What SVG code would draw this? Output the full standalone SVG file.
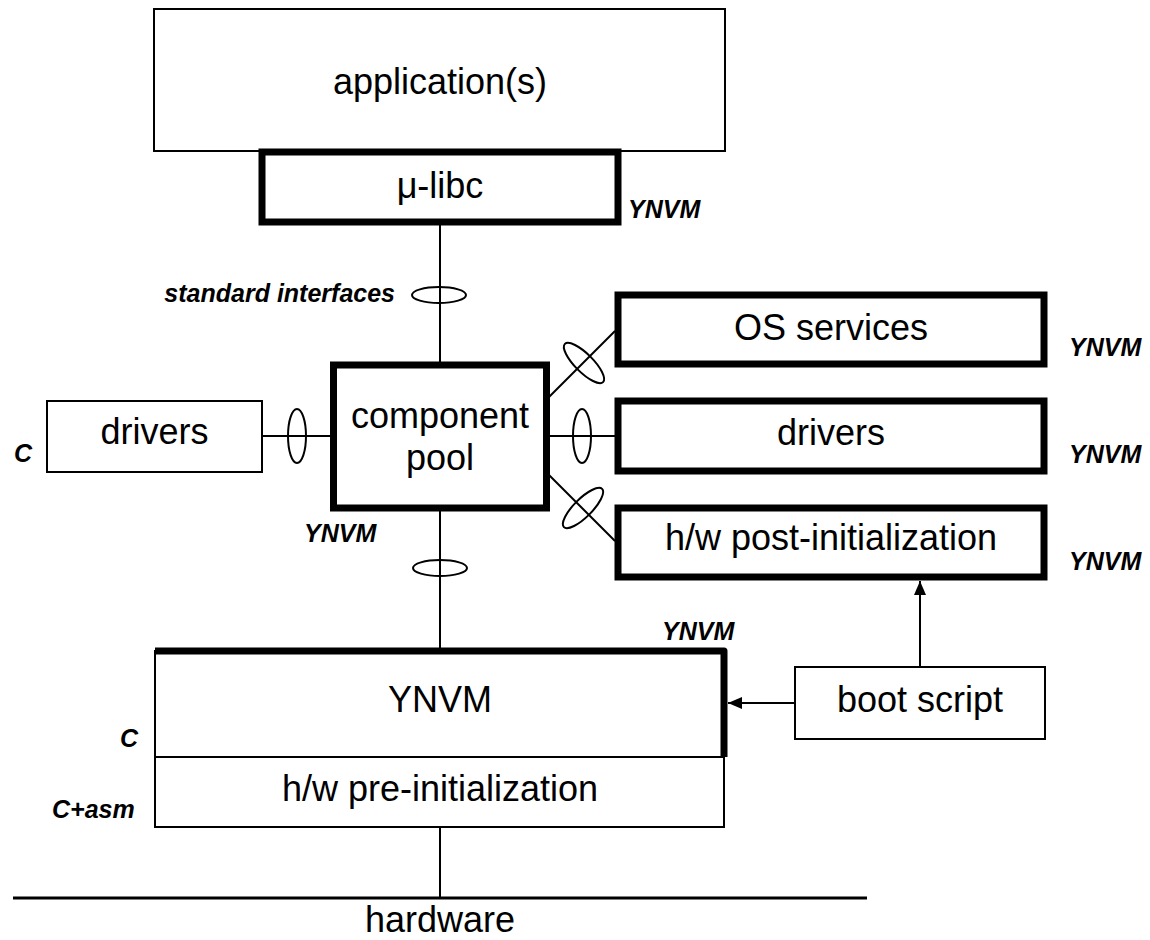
<svg xmlns="http://www.w3.org/2000/svg" width="1150" height="940" viewBox="0 0 1150 940">
<defs>
<style>
.box{fill:#fff;stroke:#000;stroke-width:2}
.thick{fill:#fff;stroke:#000;stroke-width:7}
.t{font-family:"Liberation Sans",Arial,sans-serif;font-size:36px;fill:#000;text-anchor:middle}
.lbl{font-family:"Liberation Sans",Arial,sans-serif;font-size:25px;font-weight:bold;font-style:italic;fill:#000}
.ln{stroke:#000;stroke-width:2;fill:none}
.ell{fill:none;stroke:#000;stroke-width:2}
</style>
<marker id="ah" viewBox="0 0 14 12" refX="14" refY="6" markerWidth="14" markerHeight="12" markerUnits="userSpaceOnUse" orient="auto">
<path d="M0,0 L14,6 L0,12 Z" fill="#000"/>
</marker>
</defs>
<rect width="1150" height="940" fill="#fff"/>

<g id="connectors">
<line class="ln" x1="440" y1="222" x2="440" y2="365"/>
<ellipse class="ell" cx="439" cy="295" rx="27" ry="8"/>
<line class="ln" x1="440" y1="508" x2="440" y2="651"/>
<ellipse class="ell" cx="440" cy="568" rx="27" ry="8"/>
<line class="ln" x1="262" y1="436" x2="333" y2="436"/>
<ellipse class="ell" cx="297" cy="436" rx="9" ry="27"/>
<line class="ln" x1="547" y1="436" x2="618" y2="436"/>
<ellipse class="ell" cx="582" cy="436" rx="9" ry="27"/>
<line class="ln" x1="547" y1="399" x2="615" y2="331"/>
<ellipse class="ell" cx="584" cy="363" rx="27" ry="9" transform="rotate(45 584 363)"/>
<line class="ln" x1="547" y1="473" x2="615" y2="541"/>
<ellipse class="ell" cx="583" cy="508" rx="27" ry="9" transform="rotate(-45 583 508)"/>
<line class="ln" x1="920" y1="667" x2="920" y2="581" marker-end="url(#ah)"/>
<line class="ln" x1="795" y1="703" x2="728" y2="703" marker-end="url(#ah)"/>
<line class="ln" x1="440" y1="827" x2="440" y2="898"/>
<line x1="13" y1="898" x2="867" y2="898" stroke="#000" stroke-width="3"/>
</g>

<g id="applications">
<rect class="box" x="154" y="9" width="571" height="142"/>
<text class="t" x="440" y="94">application(s)</text>
</g>

<g id="ulibc">
<rect class="thick" x="262" y="152" width="356" height="70"/>
<text class="t" x="440" y="198">μ-libc</text>
<text class="lbl" x="628" y="218">YNVM</text>
</g>

<g id="std-if">
<text class="lbl" x="395" y="302" text-anchor="end">standard interfaces</text>
</g>

<g id="component-pool">
<rect class="thick" x="333.5" y="365" width="213" height="143"/>
<text class="t" x="440" y="428">component</text>
<text class="t" x="440" y="470">pool</text>
<text class="lbl" x="304" y="542">YNVM</text>
</g>

<g id="drivers-c">
<rect class="box" x="47" y="401" width="215" height="71"/>
<text class="t" x="154.5" y="444">drivers</text>
<text class="lbl" x="14" y="462">C</text>
</g>

<g id="os-services">
<rect class="thick" x="618" y="295" width="426" height="69"/>
<text class="t" x="831" y="340">OS services</text>
<text class="lbl" x="1069" y="356">YNVM</text>
</g>

<g id="drivers-ynvm">
<rect class="thick" x="618" y="401" width="426" height="70"/>
<text class="t" x="831" y="445">drivers</text>
<text class="lbl" x="1069" y="463">YNVM</text>
</g>

<g id="hw-post">
<rect class="thick" x="618" y="508" width="426" height="69"/>
<text class="t" x="831" y="550">h/w post-initialization</text>
<text class="lbl" x="1069" y="570">YNVM</text>
</g>

<g id="boot-script">
<rect class="box" x="795" y="667" width="250" height="72"/>
<text class="t" x="920" y="712">boot script</text>
</g>

<g id="ynvm">
<rect class="box" x="155" y="651" width="569" height="106"/>
<path d="M155,651 H724 V757" fill="none" stroke="#000" stroke-width="7" stroke-linejoin="round"/>
<text class="t" x="440" y="712">YNVM</text>
<text class="lbl" x="662" y="640">YNVM</text>
<text class="lbl" x="120" y="747">C</text>
</g>

<g id="hw-pre">
<rect class="box" x="155" y="757" width="569" height="70" stroke-width="2.5"/>
<text class="t" x="440" y="801">h/w pre-initialization</text>
<text class="lbl" x="52" y="818">C+asm</text>
</g>

<g id="hardware">
<text class="t" x="440" y="932">hardware</text>
</g>
</svg>
